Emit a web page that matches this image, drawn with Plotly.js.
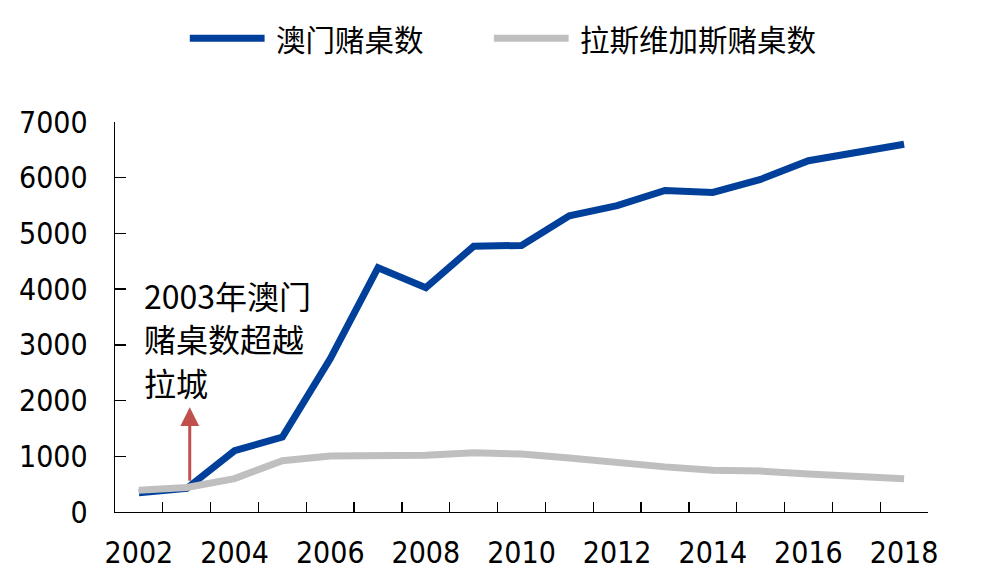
<!DOCTYPE html>
<html>
<head>
<meta charset="utf-8">
<script src="https://cdn.plot.ly/plotly-3.0.1.min.js"></script>
<style>html,body{margin:0;padding:0;background:#fff;}#chart{width:987px;height:583px;}</style>
</head>
<body>
<div id="chart"></div>
<script>
var years = ['2002','2003','2004','2005','2006','2007','2008','2009','2010','2011','2012','2013','2014','2015','2016','2017','2018'];
var tickLabels = ['2002','','2004','','2006','','2008','','2010','','2012','','2014','','2016','','2018'];
var seriesNames = ['澳门赌桌数', '拉斯维加斯赌桌数'];
var macauTables = [345, 424, 1100, 1345, 2750, 4385, 4025, 4770, 4785, 5315, 5500, 5770, 5735, 5970, 6305, 6450, 6600];
var vegasTables = [390, 440, 600, 920, 1005, 1015, 1020, 1065, 1040, 970, 885, 810, 750, 735, 680, 645, 595];
var annotationLines = ['2003年澳门', '赌桌数超越', '拉城'];

var cjk = '"Noto Sans CJK SC", "Noto Sans", sans-serif';
var numFont = '"DejaVu Sans Condensed", "DejaVu Sans", sans-serif';
var blue = '#00409A';
var grey = '#BFBFBF';

var traces = [
  {x: years, y: macauTables, name: seriesNames[0], type: 'scatter', mode: 'lines',
   line: {color: blue, width: 7}, showlegend: false, hoverinfo: 'x+y'},
  {x: years, y: vegasTables, name: seriesNames[1], type: 'scatter', mode: 'lines',
   line: {color: grey, width: 7}, showlegend: false, hoverinfo: 'x+y'}
];

// custom legend (paper coords)
var legY = 1.215;
var shapes = [
  {type: 'line', xref: 'paper', yref: 'paper', x0: 0.092, x1: 0.184, y0: legY, y1: legY, line: {color: blue, width: 7}},
  {type: 'line', xref: 'paper', yref: 'paper', x0: 0.466, x1: 0.558, y0: legY, y1: legY, line: {color: grey, width: 7}}
];
var annotations = [
  {xref: 'paper', yref: 'paper', x: 0.196, y: legY, xanchor: 'left', yanchor: 'middle', showarrow: false,
   text: seriesNames[0], font: {family: cjk, size: 29.5, color: '#000'}},
  {xref: 'paper', yref: 'paper', x: 0.570, y: legY, xanchor: 'left', yanchor: 'middle', showarrow: false,
   text: seriesNames[1], font: {family: cjk, size: 29.5, color: '#000'}},
  // arrow (category index 1 = 2003)
  {x: years.indexOf('2003'), y: 1880, xref: 'x', yref: 'y', ax: 0, ay: 75, showarrow: true, text: '',
   arrowhead: 2, arrowsize: 1.25, arrowwidth: 3, arrowcolor: '#C0504D', xshift: 3}
];
var lineYpx = [295, 338, 382];
for (var i = 0; i < annotationLines.length; i++) {
  annotations.push({xref: 'paper', yref: 'paper', x: (142 - 115) / 813, y: (512 - lineYpx[i]) / 390,
    xanchor: 'left', yanchor: 'middle', showarrow: false, text: annotationLines[i],
    font: {family: cjk, size: 32, color: '#000'}});
}

var layout = {
  width: 987, height: 583,
  margin: {l: 115, r: 59, t: 122, b: 71},
  paper_bgcolor: '#fff', plot_bgcolor: '#fff',
  showlegend: false,
  xaxis: {
    type: 'category', range: [-0.5, 16.5], autorange: false,
    tickmode: 'array', tickvals: years, ticktext: tickLabels,
    tickson: 'boundaries', ticks: 'inside', ticklen: 10, tickcolor: '#000', tickwidth: 1.3,
    showline: true, linecolor: '#000', linewidth: 1.3, showgrid: false, zeroline: false,
    tickangle: 0,
    tickfont: {family: numFont, size: 30, color: '#000'}, ticklabelstandoff: 14,
    fixedrange: true
  },
  yaxis: {
    range: [0, 7000], autorange: false, tickmode: 'array', tickvals: [0,1000,2000,3000,4000,5000,6000,7000],
    ticks: 'inside', ticklen: 11, tickcolor: '#000', tickwidth: 1.3,
    showline: true, linecolor: '#000', linewidth: 1.3, showgrid: false, zeroline: false,
    tickfont: {family: numFont, size: 30, color: '#000'}, ticklabelstandoff: 20,
    fixedrange: true
  },
  shapes: shapes,
  annotations: annotations
};

Plotly.newPlot('chart', traces, layout, {displayModeBar: false, staticPlot: true});
</script>
</body>
</html>
